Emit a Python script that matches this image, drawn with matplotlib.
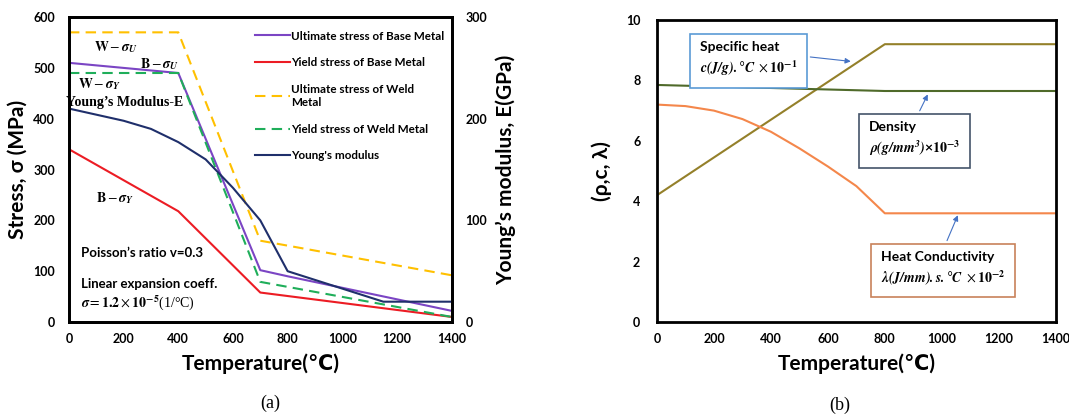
import numpy as np
import matplotlib
matplotlib.use("Agg")
import matplotlib.pyplot as plt

plt.rcParams['font.family'] = ['Lato', 'DejaVu Sans']
plt.rcParams['mathtext.fontset'] = 'stix'

# ---- data (a): stress vs temperature ----
t_ub = [0, 400, 700, 800, 1400]
ult_base = [510, 490, 102, 90, 22]
t_yb = [0, 400, 700, 1400]
yld_base = [340, 218, 58, 10]
t_uw = [0, 400, 700, 1400]
ult_weld = [570, 570, 160, 92]
t_yw = [0, 400, 700, 1400]
yld_weld = [490, 490, 79, 10]
t_E = [0, 100, 200, 300, 400, 500, 600, 700, 800, 1150, 1400]
young_E = [210, 204, 198, 190, 177, 160, 132, 100, 50, 20, 20]

# ---- data (b): thermal properties ----
t_c = [0, 800, 1400]
spec_heat = [4.2, 9.2, 9.2]
t_rho = [0, 400, 800, 1400]
density = [7.85, 7.75, 7.65, 7.65]
t_k = [0, 100, 200, 300, 400, 500, 600, 700, 800, 1400]
conduct = [7.2, 7.15, 7.0, 6.72, 6.3, 5.75, 5.15, 4.5, 3.6, 3.6]

temps = [0, 200, 400, 600, 800, 1000, 1200, 1400]

fig = plt.figure(figsize=(10.69, 4.20), dpi=100)

def style(ax):
    for s in ax.spines.values():
        s.set_linewidth(2)
    ax.tick_params(length=0, labelsize=9)
    for lb in ax.get_xticklabels() + ax.get_yticklabels():
        lb.set_fontweight('bold')

# ---------------- (a) ----------------
ax1 = fig.add_axes([0.0645, 0.2333, 0.358, 0.726])
ax1.plot(t_ub, ult_base, color='#7b45c4', lw=1.5, label='Ultimate stress of Base Metal')
ax1.plot(t_yb, yld_base, color='#ec1c24', lw=1.5, label='Yield stress of Base Metal')
ax1.plot(t_uw, ult_weld, color='#ffc000', lw=1.5, ls=(0, (5, 3)), label='Ultimate stress of Weld\nMetal')
ax1.plot(t_yw, yld_weld, color='#1fae5a', lw=1.5, ls=(0, (5, 3)), label='Yield stress of Weld Metal')
ax1.set_xlim(0, 1400)
ax1.set_ylim(0, 600)
ax1.set_xticks(temps)
ax1.set_yticks([0, 100, 200, 300, 400, 500, 600])

ax1b = ax1.twinx()
ax1b.plot(t_E, young_E, color='#1f2f6b', lw=1.5, label="Young's modulus")
ax1b.set_ylim(0, 300)
ax1b.set_yticks([0, 100, 200, 300])

style(ax1)
style(ax1b)
ax1.tick_params(axis='y', pad=10)
ax1.tick_params(axis='x', pad=8)
ax1b.tick_params(axis='y', pad=10)

ax1.set_ylabel('Stress, σ (MPa)', fontsize=15, fontweight='bold', labelpad=4)
ax1b.set_ylabel("Young’s modulus, E(GPa)", fontsize=15, fontweight='bold', labelpad=6)
ax1.set_xlabel('Temperature(℃)', fontsize=15, fontweight='bold', labelpad=6)

h1, l1 = ax1.get_legend_handles_labels()
h2, l2 = ax1b.get_legend_handles_labels()
leg = ax1.legend(h1 + h2, l1 + l2, loc='upper left', bbox_to_anchor=(0.47, 0.975),
                 frameon=False, fontsize=8.4, handlelength=3.0, handletextpad=0.1,
                 labelspacing=1.35, borderpad=0)
for tx in leg.get_texts():
    tx.set_fontweight('bold')

tk = dict(fontsize=10, ha='center', va='center')
ax1.text(170, 540, r'$\mathbf{W}-\mathbfit{\sigma}_\mathbfit{U}$', **tk)
ax1.text(330, 508, r'$\mathbf{B}-\mathbfit{\sigma}_\mathbfit{U}$', **tk)
ax1.text(110, 468, r'$\mathbf{W}-\mathbfit{\sigma}_\mathbfit{Y}$', **tk)
ax1.text(205, 432, 'Young’s Modulus-E', fontweight='bold', family='Liberation Serif', **tk)
ax1.text(170, 243, r'$\mathbf{B}-\mathbfit{\sigma}_\mathbfit{Y}$', **tk)
ax1.text(45, 135, 'Poisson’s ratio v=0.3', ha='left', va='center', fontsize=9.5, fontweight='bold')
ax1.text(45, 75, 'Linear expansion coeff.', ha='left', va='center', fontsize=9.5, fontweight='bold')
ax1.text(45, 38, r'$\mathbfit{\sigma} = \mathbf{1.2}\times\mathbf{10^{-5}}$(1/°C)', ha='left', va='center',
         fontsize=10, family='Liberation Serif')

fig.text(0.253, 0.04, '(a)', fontsize=13, family='Liberation Serif', ha='center', va='center')

# ---------------- (b) ----------------
ax2 = fig.add_axes([0.6146, 0.2333, 0.373, 0.719])
ax2.plot(t_c, spec_heat, color='#94802a', lw=1.5)
ax2.plot(t_rho, density, color='#4f6a2a', lw=1.5)
ax2.plot(t_k, conduct, color='#f4874b', lw=1.5)
ax2.set_xlim(0, 1400)
ax2.set_ylim(0, 10)
ax2.set_xticks(temps)
ax2.set_yticks([0, 2, 4, 6, 8, 10])
style(ax2)
ax2.tick_params(axis='y', pad=12)
ax2.tick_params(axis='x', pad=8)
ax2.set_ylabel('(ρ,c, λ)', fontsize=15, fontweight='bold', labelpad=10)
ax2.set_xlabel('Temperature(℃)', fontsize=15, fontweight='bold', labelpad=6)

arrow = dict(arrowstyle='-|>', color='#4472c4', lw=0.8, mutation_scale=8)
ax2.annotate('Specific heat\n' + r'$\mathbfit{c(J/g).°C}\ \times \mathbf{10^{-1}}$',
             xy=(690, 8.62), xytext=(150, 8.7), textcoords='data',
             fontsize=10, fontweight='bold', ha='left', va='center', linespacing=1.4,
             bbox=dict(boxstyle='square,pad=0.7', fc='white', ec='#5b9bd5', lw=1.2),
             arrowprops=dict(arrow, relpos=(1.0, 0.6)))
ax2.annotate('Density\n' + r'$\mathbfit{\rho(g/mm^3)}$×$\mathbf{10^{-3}}$',
             xy=(955, 7.62), xytext=(745, 6.05), textcoords='data',
             fontsize=10, fontweight='bold', ha='left', va='center', linespacing=1.4,
             bbox=dict(boxstyle='square,pad=0.7', fc='white', ec='#44546a', lw=1.2),
             arrowprops=dict(arrow, relpos=(0.5, 1.0)))
ax2.annotate('Heat Conductivity\n' + r'$\mathbfit{\lambda(J/mm).s.°C}\ \times \mathbf{10^{-2}}$',
             xy=(1060, 3.62), xytext=(785, 1.75), textcoords='data',
             fontsize=10, fontweight='bold', ha='left', va='center', linespacing=1.4,
             bbox=dict(boxstyle='square,pad=0.7', fc='white', ec='#c8825a', lw=1.2),
             arrowprops=dict(arrow, relpos=(0.5, 1.0)))

fig.text(0.786, 0.035, '(b)', fontsize=13, family='Liberation Serif', ha='center', va='center')

fig.savefig('out.png', dpi=100)
